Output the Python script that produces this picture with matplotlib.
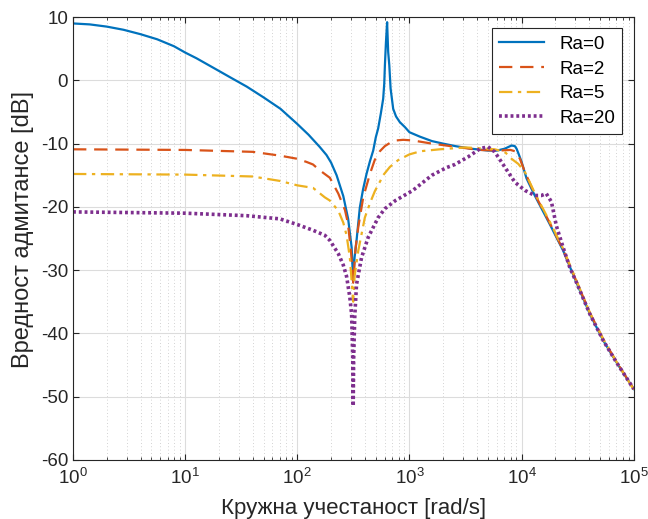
import numpy as np
import matplotlib
matplotlib.use("Agg")
import matplotlib.pyplot as plt
from matplotlib.ticker import LogLocator, NullFormatter, MultipleLocator

plt.rcParams['font.family'] = ['Liberation Sans', 'DejaVu Sans']
plt.rcParams['mathtext.fontset'] = 'custom'
plt.rcParams['mathtext.rm'] = 'Liberation Sans'
plt.rcParams['mathtext.it'] = 'Liberation Sans:italic'
plt.rcParams['axes.unicode_minus'] = False

# ---- data ----
w_ra0 = [1, 1.41, 2, 2.82, 4, 5.62, 7.94, 10, 12.6, 17.8,
         25.1, 35.5, 50.1, 70.8, 100, 126, 158, 182, 200, 224,
         257, 284, 305, 315, 324, 337, 361, 386, 414, 444,
         475, 501, 526, 556, 583, 596, 604, 617, 632, 646,
         661, 679, 716, 759, 820, 912, 1000, 1239, 1585, 1995,
         2570, 3548, 5012, 6026, 7079, 8128, 8710, 9016, 9441, 10000,
         11066, 13092, 17783, 23442, 30903, 40738, 53703, 70795, 100000]
db_ra0 = [9.0, 8.85, 8.5, 8.0, 7.3, 6.5, 5.4, 4.4, 3.5, 2.0,
          0.5, -1.0, -2.7, -4.5, -6.9, -8.6, -10.5, -11.8, -13.0, -15.0,
          -18.3, -21.9, -26.4, -31.8, -28.0, -25.4, -20.1, -17.2, -14.8, -12.8,
          -11.1, -9.0, -7.6, -5.2, -2.9, -0.5, 2.4, 6.0, 9.2, 4.5,
          2.4, -1.3, -4.5, -5.7, -6.6, -7.4, -8.2, -8.9, -9.6, -10.0,
          -10.4, -10.8, -11.1, -11.1, -10.8, -10.3, -10.4, -10.8, -11.7, -12.9,
          -15.5, -18.2, -22.7, -26.9, -32.0, -37.0, -41.2, -44.7, -48.8]

w_ra2 = [1, 10, 40, 70, 100, 121, 138, 158, 195, 232,
         266, 282, 301, 315, 331, 349, 387, 444, 490, 545,
         603, 668, 759, 879, 1072, 1585, 2570, 4169, 6310, 7943,
         8710, 9661, 10715, 13092, 17783, 23442, 30903, 40738, 53703, 70795,
         100000]
db_ra2 = [-10.9, -11.0, -11.3, -11.9, -12.4, -12.9, -13.3, -14.2, -15.4, -17.9,
          -20.5, -22.5, -27.0, -32.0, -26.5, -23.3, -18.5, -14.8, -12.6, -11.2,
          -10.4, -9.9, -9.5, -9.4, -9.5, -10.0, -10.5, -11.0, -11.1, -11.0,
          -11.2, -12.4, -14.5, -18.0, -22.5, -26.8, -31.8, -36.8, -41.0, -44.6,
          -48.8]

w_ra5 = [1, 10, 40, 70, 100, 138, 176, 195, 232, 257,
         275, 294, 315, 324, 349, 400, 447, 492, 550, 583,
         668, 794, 1000, 1259, 1862, 3162, 5754, 7079, 8128, 9333,
         10715, 13092, 17783, 23442, 30903, 40738, 53703, 70795, 100000]
db_ra5 = [-14.8, -14.9, -15.2, -15.9, -16.6, -17.0, -18.5, -19.0, -20.6, -22.5,
          -24.5, -28.0, -35.0, -31.0, -27.0, -21.7, -19.3, -17.5, -15.9, -15.0,
          -13.7, -12.6, -11.7, -11.2, -10.9, -10.6, -10.9, -11.3, -12.4, -13.2,
          -14.5, -17.8, -22.3, -26.6, -31.7, -36.8, -41.0, -44.6, -48.9]

w_ra20 = [1, 10, 35.5, 70, 100, 138, 176, 195, 232, 257,
          275, 294, 305, 312, 315, 318, 325, 337, 374, 429,
          526, 603, 750, 1072, 1585, 2138, 2540, 3334, 4266, 5012,
          5754, 6607, 7586, 8710, 10715, 13092, 15031, 16596, 18450, 20417,
          23442, 26915, 30903, 40738, 53703, 70795, 100000]
db_ra20 = [-20.8, -21.0, -21.4, -21.9, -22.8, -23.7, -24.5, -25.3, -27.4, -29.2,
           -31.0, -34.3, -37.0, -44.0, -51.5, -44.0, -37.5, -32.3, -28.0, -24.8,
           -21.7, -20.3, -19.0, -17.4, -15.0, -13.8, -13.3, -12.1, -10.8, -10.5,
           -11.3, -12.9, -14.5, -16.1, -17.4, -18.2, -18.2, -17.9, -19.2, -23.0,
           -26.4, -29.6, -32.0, -37.0, -41.2, -44.7, -48.8]

labels = ['Ra=0', 'Ra=2', 'Ra=5', 'Ra=20']

fig = plt.figure(figsize=(6.48, 5.19), dpi=100)
ax = fig.add_axes([0.1127, 0.114, 0.8653, 0.853])

ax.semilogx(w_ra0, db_ra0, color='#0072BD', lw=1.6, ls='-', label=labels[0])
ax.semilogx(w_ra2, db_ra2, color='#D95319', lw=1.6, ls=(0, (6, 3.5)), label=labels[1])
ax.semilogx(w_ra5, db_ra5, color='#EDB120', lw=1.6, ls=(0, (6, 2.5, 1.5, 2.5)), label=labels[2])
ax.semilogx(w_ra20, db_ra20, color='#7E2F8E', lw=2.6, ls=(0, (0.8, 0.8)), label=labels[3])

ax.set_xlim(1, 1e5)
ax.set_ylim(-60, 10)
ax.yaxis.set_major_locator(MultipleLocator(10))
ax.xaxis.set_major_locator(LogLocator(base=10, numticks=10))
ax.xaxis.set_minor_locator(LogLocator(base=10, subs=np.arange(2, 10), numticks=20))
ax.xaxis.set_minor_formatter(NullFormatter())

ax.grid(True, which='major', color='#dcdcdc', lw=0.8, ls='-')
ax.grid(True, which='minor', axis='x', color='#c4c4c4', lw=0.6, ls=(0, (1, 3)))
ax.set_axisbelow(True)

ax.tick_params(which='both', direction='in', top=True, right=True,
               colors='#262626', labelsize=13.5)
ax.tick_params(which='major', length=4, width=0.8)
ax.tick_params(which='minor', length=2, width=0.6)
ax.tick_params(axis='x', pad=6)
for s in ax.spines.values():
    s.set_color('#262626')
    s.set_linewidth(0.8)

ax.set_xlabel('Кружна учестаност [rad/s]', fontsize=16, color='#262626', labelpad=7)
ax.set_ylabel('Вредност адмитансе [dB]', fontsize=17, color='#262626')
ax.yaxis.set_label_coords(-0.07, 0.52)

leg = ax.legend(loc='upper right', fontsize=13.5, frameon=True, fancybox=False,
                edgecolor='#262626', framealpha=1, borderaxespad=0.6,
                handlelength=2.4, labelspacing=0.4, borderpad=0.4)
leg.get_frame().set_linewidth(0.8)

fig.savefig('out.png', dpi=100)
